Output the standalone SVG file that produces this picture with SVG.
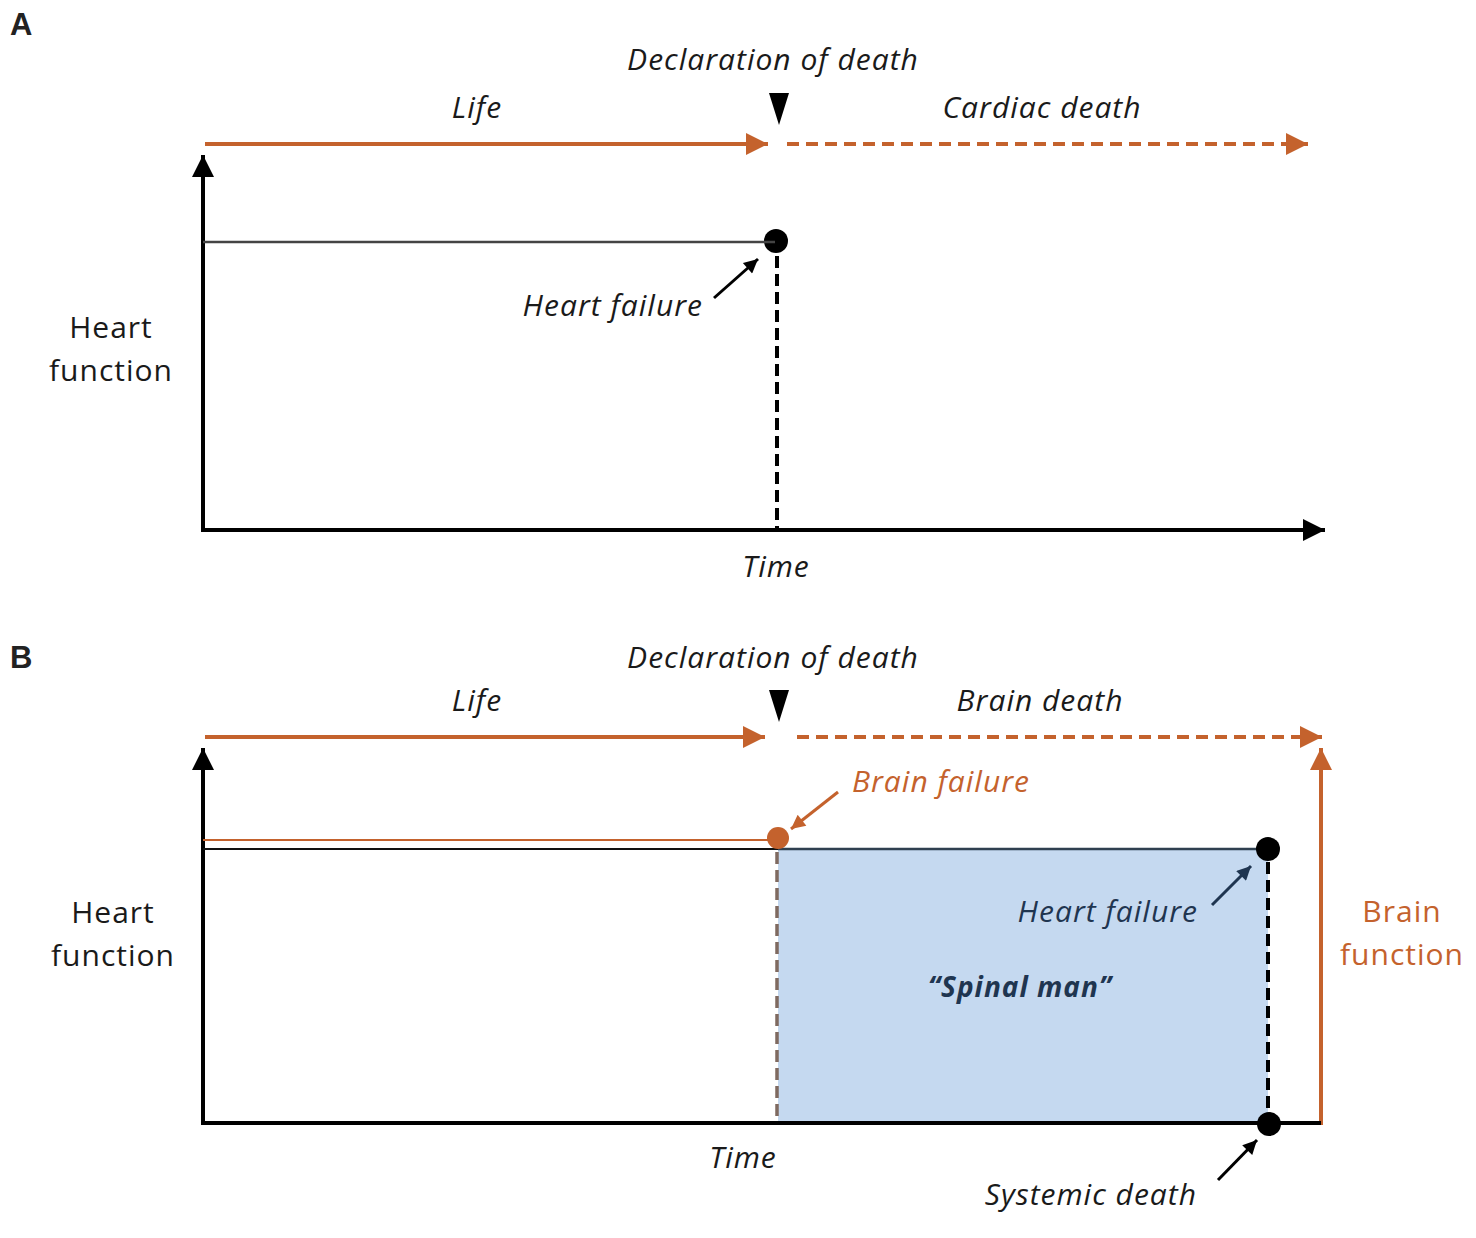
<svg xmlns="http://www.w3.org/2000/svg" width="1476" height="1238" viewBox="0 0 1476 1238">
<style>
text{font-family:"Open Sans","Noto Sans","DejaVu Sans",sans-serif;font-size:30px;letter-spacing:1px;fill:#1a1a1a}
.it{font-style:italic}
.mid{text-anchor:middle}
.panel{font-family:"Liberation Sans",Arial,sans-serif;font-weight:bold;font-size:31px;letter-spacing:0;fill:#222}
.or{fill:#C4622D}
.nv{fill:#1F3550}
.orl{stroke:#C4622D;fill:none}
.bk{stroke:#000;fill:none}
</style>
<defs>
<marker id="abk" viewBox="0 0 10 10" refX="10" refY="5" markerWidth="34" markerHeight="22" markerUnits="userSpaceOnUse" orient="auto">
<path d="M0,0 L10,5 L0,10 Z" fill="#000"/>
</marker>
<marker id="aor2" viewBox="0 0 10 10" refX="10" refY="5" markerWidth="32" markerHeight="22" markerUnits="userSpaceOnUse" orient="auto">
<path d="M0,0 L10,5 L0,10 Z" fill="#C4622D"/>
</marker>
<marker id="sbk" viewBox="0 0 10 10" refX="10" refY="5" markerWidth="22" markerHeight="14" markerUnits="userSpaceOnUse" orient="auto">
<path d="M0,0 L10,5 L0,10 Z" fill="#000"/>
</marker>
<marker id="snv" viewBox="0 0 10 10" refX="10" refY="5" markerWidth="22" markerHeight="14" markerUnits="userSpaceOnUse" orient="auto">
<path d="M0,0 L10,5 L0,10 Z" fill="#1F3550"/>
</marker>
<marker id="sor" viewBox="0 0 10 10" refX="10" refY="5" markerWidth="22" markerHeight="14" markerUnits="userSpaceOnUse" orient="auto">
<path d="M0,0 L10,5 L0,10 Z" fill="#C4622D"/>
</marker>
</defs>

<!-- Panel A -->
<g id="panelA">
<text class="panel" x="10" y="35">A</text>
<g id="A-declaration">
<text class="it mid" x="773" y="70">Declaration of death</text>
<path d="M769,93 L789,93 L779,125 Z" fill="#000"/>
</g>
<text id="A-life" class="it mid" x="477" y="118">Life</text>
<text id="A-cardiac" class="it mid" x="1042" y="118">Cardiac death</text>
<g id="A-heartlabel">
<text class="mid" x="111" y="338">Heart</text>
<text class="mid" x="111" y="381">function</text>
</g>
<text id="A-time" class="it mid" x="776" y="577">Time</text>
<text id="A-heartfailure" class="it" x="703" y="316" text-anchor="end">Heart failure</text>
<circle id="A-dot" cx="776" cy="241" r="12" fill="#000"/>
</g>

<g id="connectorsA">
<line class="orl" x1="205" y1="144" x2="768" y2="144" stroke-width="4" marker-end="url(#aor2)"/>
<line class="orl" x1="787" y1="144" x2="1308" y2="144" stroke-width="4" stroke-dasharray="12,7" marker-end="url(#aor2)"/>
<line class="bk" x1="203" y1="532" x2="203" y2="155" stroke-width="4" marker-end="url(#abk)"/>
<line class="bk" x1="201" y1="530" x2="1325" y2="530" stroke-width="4" marker-end="url(#abk)"/>
<line x1="203" y1="242" x2="775" y2="242" stroke="#444" stroke-width="2.5"/>
<line class="bk" x1="777" y1="256" x2="777" y2="530" stroke-width="4" stroke-dasharray="12,6"/>
<line class="bk" x1="714" y1="298" x2="758" y2="259" stroke-width="3" marker-end="url(#sbk)"/>
</g>

<!-- Panel B -->
<g id="panelB">
<text class="panel" x="10" y="668">B</text>
<rect id="B-spinal-area" x="778" y="849" width="490" height="274" fill="#C5D9F0"/>
<g id="B-declaration">
<text class="it mid" x="773" y="668">Declaration of death</text>
<path d="M769,690 L789,690 L779,722 Z" fill="#000"/>
</g>
<text id="B-life" class="it mid" x="477" y="711">Life</text>
<text id="B-braindeath" class="it mid" x="1040" y="711">Brain death</text>
<text id="B-brainfailure" class="it or" x="852" y="792">Brain failure</text>
<g id="B-heartlabel">
<text class="mid" x="113" y="923">Heart</text>
<text class="mid" x="113" y="966">function</text>
</g>
<g id="B-brainlabel">
<text class="mid or" x="1402" y="922">Brain</text>
<text class="mid or" x="1402" y="965">function</text>
</g>
<text id="B-heartfailure" class="it nv" x="1198" y="922" text-anchor="end">Heart failure</text>
<text id="B-spinalman" class="it nv mid" x="1020" y="997" font-weight="bold" style="font-size:28px">“Spinal man”</text>
<text id="B-time" class="it mid" x="743" y="1168">Time</text>
<text id="B-systemic" class="it" x="1197" y="1205" text-anchor="end">Systemic death</text>
</g>

<g id="connectorsB">
<line class="orl" x1="205" y1="737" x2="765" y2="737" stroke-width="4" marker-end="url(#aor2)"/>
<line class="orl" x1="797" y1="737" x2="1322" y2="737" stroke-width="4" stroke-dasharray="12,7" marker-end="url(#aor2)"/>
<line class="bk" x1="203" y1="1125" x2="203" y2="748" stroke-width="4" marker-end="url(#abk)"/>
<line class="orl" x1="1321" y1="1125" x2="1321" y2="748" stroke-width="4" marker-end="url(#aor2)"/>
<line class="bk" x1="201" y1="1123" x2="1321" y2="1123" stroke-width="4"/>
<line x1="203" y1="840" x2="778" y2="840" stroke="#C4622D" stroke-width="2"/>
<line x1="203" y1="849" x2="778" y2="849" stroke="#111" stroke-width="2"/>
<line x1="778" y1="849" x2="1268" y2="849" stroke="#2F4050" stroke-width="2.5"/>
<line x1="777" y1="852" x2="777" y2="1121" stroke="#7F6A60" stroke-width="3.5" stroke-dasharray="12,6"/>
<line class="bk" x1="1268" y1="862" x2="1268" y2="1121" stroke-width="4" stroke-dasharray="12,6"/>
<line x1="838" y1="792" x2="791" y2="829" stroke="#C4622D" stroke-width="3" marker-end="url(#sor)"/>
<line x1="1212" y1="905" x2="1251" y2="866" stroke="#1F3550" stroke-width="3" marker-end="url(#snv)"/>
<line class="bk" x1="1218" y1="1180" x2="1257" y2="1140" stroke-width="3" marker-end="url(#sbk)"/>
</g>

<g id="B-dots">
<circle id="B-orangedot" cx="778" cy="838" r="11" fill="#C4622D"/>
<circle id="B-heartdot" cx="1268" cy="849" r="12" fill="#000"/>
<circle id="B-systemicdot" cx="1269" cy="1124" r="12" fill="#000"/>
</g>
</svg>
